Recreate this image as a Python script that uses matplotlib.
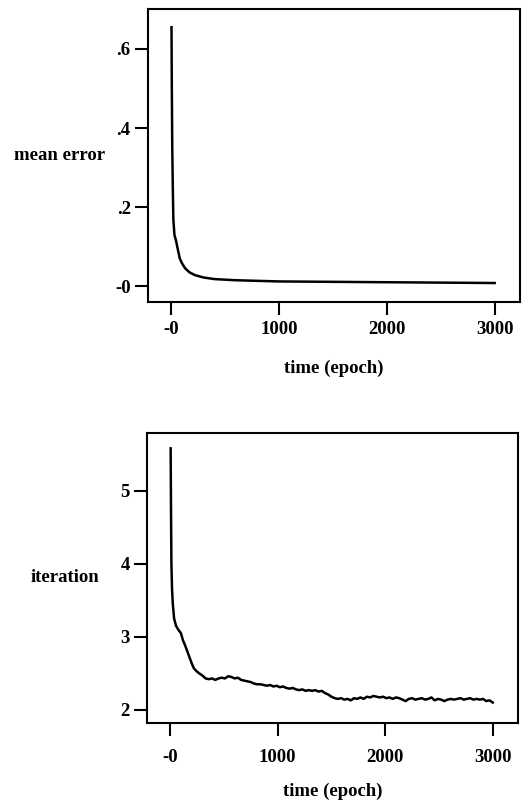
import matplotlib
matplotlib.use("Agg")
import matplotlib.pyplot as plt

plt.rcParams['font.family'] = ['Liberation Serif', 'DejaVu Serif']
plt.rcParams['font.weight'] = 'bold'
plt.rcParams['axes.labelweight'] = 'bold'

# ---- data ----
err_epoch = [3, 6, 10, 15, 20, 30, 45, 60, 80, 100, 130, 170, 220, 300, 400,
             600, 1000, 1500, 2000, 2500, 3000]
err_value = [0.655, 0.5, 0.35, 0.25, 0.17, 0.13, 0.115, 0.095, 0.07, 0.058,
             0.045, 0.035, 0.028, 0.022, 0.018, 0.015, 0.012, 0.011, 0.010,
             0.009, 0.008]

it_epoch = [5, 8, 12, 18, 25, 37, 55, 75, 100, 120, 140, 160, 180, 200, 220,
            245, 270, 300, 330, 360, 390, 420, 450, 480, 510, 540, 570, 600,
            630, 660, 690, 720, 750, 780, 810, 840, 870, 900, 930, 960, 990,
            1020, 1050, 1080, 1110, 1140, 1170, 1200, 1230, 1260, 1290, 1320,
            1350, 1380, 1410, 1440, 1470, 1500, 1530, 1560, 1590, 1620, 1650,
            1680, 1710, 1740, 1770, 1800, 1830, 1860, 1890, 1920, 1950, 1980,
            2010, 2040, 2070, 2100, 2130, 2160, 2190, 2220, 2250, 2280, 2310,
            2340, 2370, 2400, 2430, 2460, 2490, 2520, 2550, 2580, 2610, 2640,
            2670, 2700, 2730, 2760, 2790, 2820, 2850, 2880, 2910, 2940, 2970,
            3000]
it_value = [5.58, 4.8, 4.0, 3.65, 3.45, 3.25, 3.15, 3.1, 3.05, 2.95, 2.88,
            2.80, 2.72, 2.64, 2.57, 2.53, 2.50, 2.47, 2.43, 2.42, 2.43, 2.41,
            2.43, 2.44, 2.43, 2.46, 2.45, 2.43, 2.44, 2.41, 2.40, 2.39, 2.38,
            2.36, 2.35, 2.35, 2.34, 2.33, 2.34, 2.32, 2.33, 2.31, 2.32, 2.30,
            2.29, 2.30, 2.28, 2.27, 2.28, 2.26, 2.27, 2.26, 2.27, 2.25, 2.26,
            2.23, 2.21, 2.18, 2.16, 2.15, 2.16, 2.14, 2.15, 2.13, 2.16, 2.15,
            2.17, 2.15, 2.18, 2.17, 2.19, 2.18, 2.17, 2.18, 2.16, 2.17, 2.15,
            2.17, 2.16, 2.14, 2.12, 2.15, 2.16, 2.14, 2.15, 2.16, 2.14, 2.15,
            2.17, 2.13, 2.15, 2.14, 2.12, 2.14, 2.15, 2.14, 2.15, 2.16, 2.14,
            2.15, 2.16, 2.14, 2.15, 2.14, 2.15, 2.12, 2.13, 2.10]

x_ticks = [0, 1000, 2000, 3000]
x_ticklabels = ['-0', '1000', '2000', '3000']
err_ticks = [0.0, 0.2, 0.4, 0.6]
err_ticklabels = ['-0', '.2', '.4', '.6']
it_ticks = [2, 3, 4, 5]
it_ticklabels = ['2', '3', '4', '5']

W, H = 524, 801
fig = plt.figure(figsize=(W / 100, H / 100), dpi=100)

def box(l, r, t, b):
    return [l / W, 1 - b / H, (r - l) / W, (b - t) / H]

ax1 = fig.add_axes(box(148, 520, 9, 302))
ax2 = fig.add_axes(box(147, 518, 433, 723))

fs = 13.5
for ax in (ax1, ax2):
    for s in ax.spines.values():
        s.set_linewidth(1.5)
    ax.tick_params(direction='out', length=9.5, width=1.5, labelsize=fs, pad=3)
    ax.set_xlim(-215, 3235)
    ax.set_xticks(x_ticks)
    ax.set_xticklabels(x_ticklabels)

ax1.tick_params(axis='x', pad=4)
ax1.set_xlabel('time (epoch)', fontsize=fs, labelpad=16)
ax2.tick_params(axis='x', pad=9)
ax2.set_xlabel('time (epoch)', fontsize=fs, labelpad=12)

ax1.plot(err_epoch, err_value, color='black', lw=1.8)
ax1.set_ylim(-0.04, 0.701)
ax1.set_yticks(err_ticks)
ax1.set_yticklabels(err_ticklabels)
ax1.set_ylabel('mean error', rotation=0, fontsize=fs, ha='right', va='center')
ax1.yaxis.set_label_coords(-0.116, 0.5)

ax2.plot(it_epoch, it_value, color='black', lw=1.8)
ax2.set_ylim(1.82, 5.79)
ax2.set_yticks(it_ticks)
ax2.set_yticklabels(it_ticklabels)
ax2.set_ylabel('iteration', rotation=0, fontsize=fs, ha='right', va='center')
ax2.yaxis.set_label_coords(-0.129, 0.5)

fig.savefig('out.png', dpi=100)
